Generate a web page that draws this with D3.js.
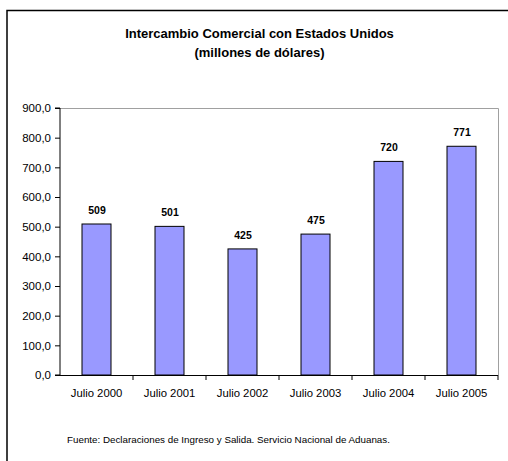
<!DOCTYPE html>
<meta charset="utf-8">
<head>
    <script src="https://d3js.org/d3.v7.min.js"></script>
    <style>
    body { margin: 0; background: white; font-family: "Liberation Sans", Arial, sans-serif; }
    svg { display: block; }
    </style>
</head>
<body>
    <svg id="svgid" width="508" height="461"></svg>
    <script>
        // data
        var categories = ["Julio 2000", "Julio 2001", "Julio 2002", "Julio 2003", "Julio 2004", "Julio 2005"];
        var values = [509, 501, 425, 475, 720, 771];
        var yTicks = [0, 100, 200, 300, 400, 500, 600, 700, 800, 900];

        var svg = d3.select("#svgid");

        // outer frame (runs past the right and bottom edges)
        svg.append("rect")
            .attr("x", 7).attr("y", 10.5)
            .attr("width", 510).attr("height", 470)
            .style("fill", "none").style("stroke", "#000").style("stroke-width", 1.5);

        svg.append("text")
            .attr("x", 259.5).attr("y", 38)
            .attr("text-anchor", "middle")
            .style("font-size", "13px").style("font-weight", "bold")
            .text("Intercambio Comercial con Estados Unidos");
        svg.append("text")
            .attr("x", 259.5).attr("y", 57)
            .attr("text-anchor", "middle")
            .style("font-size", "13px").style("font-weight", "bold")
            .text("(millones de dólares)");

        var pLeft = 60, pRight = 498, pTop = 108, pBottom = 375;

        var xb = d3.scaleBand().domain(categories).range([pLeft, pRight]);
        var y = d3.scaleLinear().domain([0, 900]).range([pBottom, pTop]);

        // plot frame: grey top and right
        svg.append("path")
            .attr("d", "M" + pLeft + "," + (pTop + 0.5) + "H" + (pRight + 0.5) + "V" + pBottom)
            .style("fill", "none").style("stroke", "#a0a0a0").style("stroke-width", 1);

        svg.selectAll(".bar")
            .data(values)
            .enter().append("rect")
            .attr("class", "bar")
            .attr("x", function(d, i) { return xb(categories[i]) + xb.bandwidth() / 2 - 14.5; })
            .attr("width", 29)
            .attr("y", function(d) { return y(d); })
            .attr("height", function(d) { return y(0) - y(d); })
            .style("fill", "#9999ff").style("stroke", "#000").style("stroke-width", 1);

        svg.selectAll(".lbl")
            .data(values)
            .enter().append("text")
            .attr("class", "lbl")
            .attr("x", function(d, i) { return xb(categories[i]) + xb.bandwidth() / 2 + 0.5; })
            .attr("y", function(d) { return y(d) - 10; })
            .attr("text-anchor", "middle")
            .style("font-size", "10.5px").style("font-weight", "bold")
            .text(function(d) { return d; });

        // y axis
        var yAxis = d3.axisLeft(y).tickValues(yTicks).tickSize(5).tickPadding(4)
            .tickFormat(function(d) { return d3.format(".1f")(d).replace(".", ","); });
        var gy = svg.append("g").attr("transform", "translate(" + pLeft + ",0)").call(yAxis);
        gy.select(".domain").attr("d", "M-5," + pTop + "H0V" + pBottom + "H-5").style("stroke", "#000");
        gy.selectAll("text").style("font-size", "11.5px").style("font-family", "Liberation Sans, Arial, sans-serif");

        // x axis: line with ticks at category boundaries
        var gx = svg.append("g");
        gx.append("line")
            .attr("x1", pLeft).attr("x2", pRight).attr("y1", pBottom + 0.5).attr("y2", pBottom + 0.5)
            .style("stroke", "#000");
        gx.selectAll(".xt")
            .data(categories)
            .enter().append("line")
            .attr("x1", function(d) { return xb(d) + xb.bandwidth(); })
            .attr("x2", function(d) { return xb(d) + xb.bandwidth(); })
            .attr("y1", pBottom).attr("y2", pBottom + 5)
            .style("stroke", "#000");
        gx.selectAll(".xl")
            .data(categories)
            .enter().append("text")
            .attr("x", function(d) { return xb(d) + xb.bandwidth() / 2; })
            .attr("y", 397)
            .attr("text-anchor", "middle")
            .style("font-size", "11.3px")
            .text(function(d) { return d; });

        svg.append("text")
            .attr("x", 67).attr("y", 443)
            .style("font-size", "9.8px")
            .text("Fuente: Declaraciones de Ingreso y Salida. Servicio Nacional de Aduanas.");
    </script>
</body>
